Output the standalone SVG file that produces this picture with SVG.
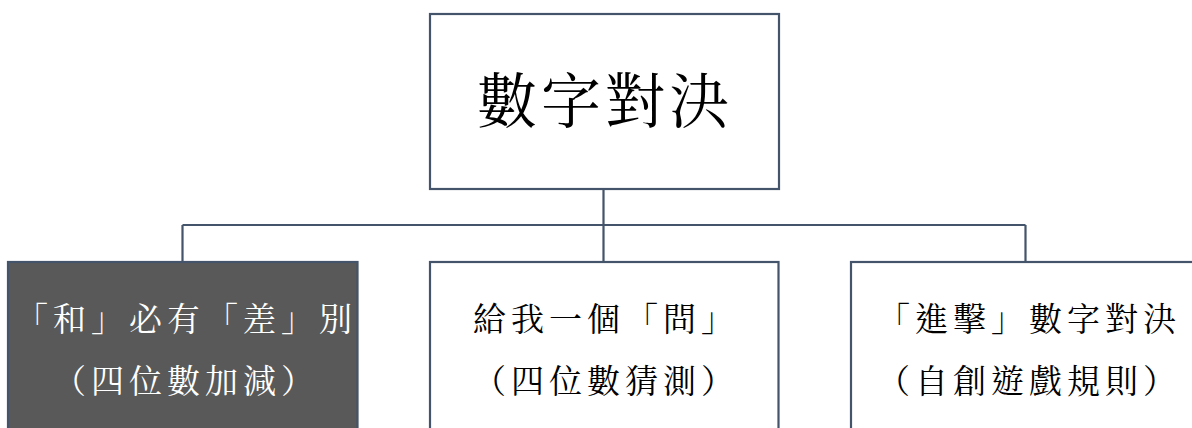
<svg xmlns="http://www.w3.org/2000/svg" width="1192" height="428" viewBox="0 0 1192 428">
<style>
.box{stroke:#44546a;stroke-width:2.2;fill:#ffffff}
.dark{fill:#595959}
.conn{stroke:#44546a;stroke-width:2.2;fill:none}
text{font-family:"Noto Serif CJK TC","Noto Sans CJK TC",serif;text-anchor:middle;dominant-baseline:central}
.t{font-size:60px;letter-spacing:4px;fill:#000}
.l{font-size:33px;letter-spacing:5px;fill:#000}
.w{fill:#ffffff}
</style>
<rect width="1192" height="428" fill="#ffffff"/>
<g id="connectors">
<path class="conn" d="M603.5 189 V225 M182.5 225 H1025.5 M182.5 225 V262 M603.5 225 V262 M1025.5 225 V262"/>
</g>
<g id="root">
<rect class="box" x="430" y="14" width="349" height="175"/>
<text class="t" x="605" y="97">數字對決</text>
</g>
<g id="node1">
<rect class="box dark" x="8" y="262" width="349.5" height="180"/>
<text class="l w" x="186" y="316">「和」必有「差」別</text>
<text class="l w" x="186" y="378">（四位數加減）</text>
</g>
<g id="node2">
<rect class="box" x="430" y="262" width="348.5" height="180"/>
<text class="l" x="606" y="316">給我一個「問」</text>
<text class="l" x="606" y="378">（四位數猜測）</text>
</g>
<g id="node3">
<rect class="box" x="851" y="262" width="349" height="180"/>
<text class="l" x="1029" y="316">「進擊」數字對決</text>
<text class="l" x="1029" y="378">（自創遊戲規則）</text>
</g>
</svg>
